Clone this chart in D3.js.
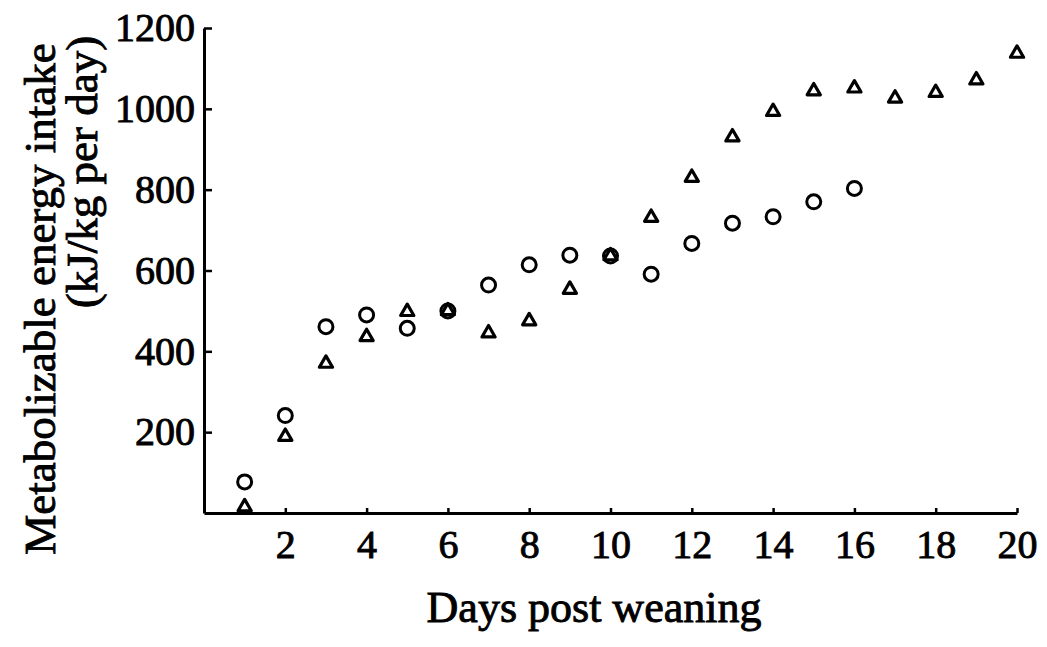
<!DOCTYPE html>
<html>
<head>
<meta charset="utf-8">
<script src="https://cdn.jsdelivr.net/npm/d3@7"></script>
<style>
  body { margin: 0; background: #fff; }
  svg text { font-family: "Liberation Serif", "DejaVu Serif", serif; fill: #000; }
</style>
</head>
<body>
<svg width="1047" height="647"></svg>
<script>

// days 1..20
var days = [1,2,3,4,5,6,7,8,9,10,11,12,13,14,15,16,17,18,19,20];
// circles (only up to day 16)
var circleVals = [77,241,461,490,457,500,564,614,638,636,591,667,717,733,770,803];
// triangles
var triangleVals = [15,189,370,436,498,500,445,475,553,636,731,830,930,993,1044,1051,1026,1040,1071,1137];

var xTicks = [2,4,6,8,10,12,14,16,18,20];
var yTicks = [200,400,600,800,1000,1200];

var svg = d3.select('svg');

var x = d3.scaleLinear().domain([0, 20]).range([204, 1017]);
var y = d3.scaleLinear().domain([0, 1200]).range([513, 28]);

// y axis, ticks pointing inward
svg.append('g')
  .attr('transform', 'translate(' + x(0) + ',0)')
  .call(d3.axisLeft(y).tickValues(yTicks).tickFormat(d3.format('d'))
    .tickSizeInner(-8).tickSizeOuter(0).tickPadding(9));

// x axis
svg.append('g')
  .attr('transform', 'translate(0,' + y(0) + ')')
  .call(d3.axisBottom(x).tickValues(xTicks).tickFormat(d3.format('d'))
    .tickSizeInner(-5).tickSizeOuter(0).tickPadding(17));

svg.selectAll('.domain').attr('stroke', '#000').attr('stroke-width', 3);
svg.selectAll('.tick line').attr('stroke', '#000').attr('stroke-width', 2.5);
svg.selectAll('.tick text')
  .attr('font-size', 40)
  .attr('font-family', '"Liberation Serif", serif')
  .attr('stroke', '#000').attr('stroke-width', 0.9);

// circles
svg.append('g')
  .selectAll('circle')
  .data(circleVals)
  .enter()
  .append('circle')
  .attr('cx', function(d, i) { return x(days[i]); })
  .attr('cy', function(d) { return y(d); })
  .attr('r', 7)
  .attr('fill', 'none')
  .attr('stroke', '#000')
  .attr('stroke-width', 3);

// triangles
var tri = d3.symbol().type(d3.symbolTriangle).size(75);
svg.append('g')
  .selectAll('path')
  .data(triangleVals)
  .enter()
  .append('path')
  .attr('d', tri)
  .attr('transform', function(d, i) { return 'translate(' + x(days[i]) + ',' + y(d) + ')'; })
  .attr('fill', 'none')
  .attr('stroke', '#000')
  .attr('stroke-width', 3.2)
  .attr('stroke-linejoin', 'round');

// titles
svg.append('text')
  .attr('x', 594).attr('y', 622)
  .attr('text-anchor', 'middle')
  .attr('font-size', 44)
  .attr('stroke', '#000').attr('stroke-width', 0.9)
  .text('Days post weaning');

svg.append('text')
  .attr('transform', 'translate(55,299) rotate(-90)')
  .attr('text-anchor', 'middle')
  .attr('font-size', 45)
  .attr('stroke', '#000').attr('stroke-width', 0.9)
  .text('Metabolizable energy intake');

svg.append('text')
  .attr('transform', 'translate(97,172) rotate(-90)')
  .attr('text-anchor', 'middle')
  .attr('font-size', 45)
  .attr('stroke', '#000').attr('stroke-width', 0.9)
  .text('(kJ/kg per day)');

</script>
</body>
</html>
